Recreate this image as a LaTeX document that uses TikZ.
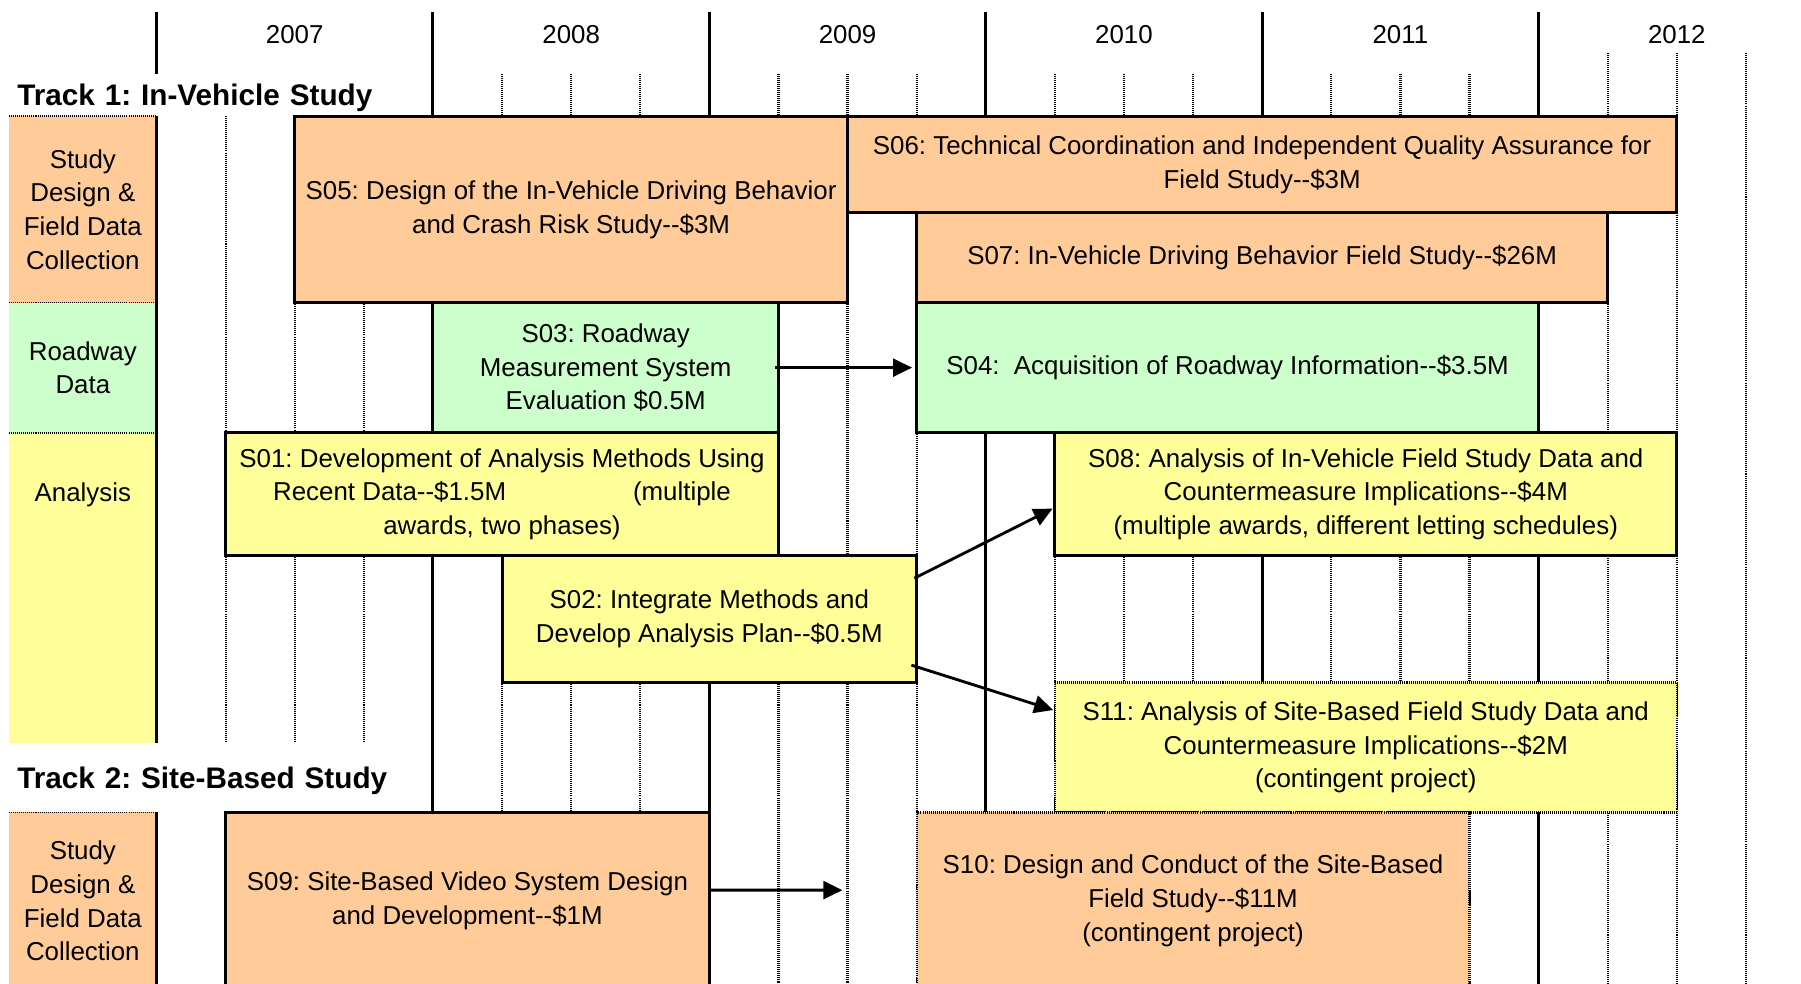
\documentclass[tikz,border=0pt]{standalone}
\usepackage{fontspec}
\setmainfont{Liberation Sans}
\usetikzlibrary{arrows.meta}
\definecolor{peach}{HTML}{FFCC99}
\definecolor{mint}{HTML}{CCFFCC}
\definecolor{lemon}{HTML}{FFFF99}
\newcommand{\twodash}{-\kern0pt-}
\tikzset{
  basic/.style = {font=\fontsize{12.8}{16.7}\selectfont, align=center, inner sep=0pt, outer sep=0pt},
  span/.style 2 args = {anchor=north west, minimum width=#1, minimum height=#2},
  task/.style = {basic, draw, line width=1.5pt},
  contingent/.style = {basic, draw, line width=1.1pt, dash pattern=on 0.5pt off 0.5pt},
  cell/.style = {basic, fill=#1, anchor=north west, minimum width=2.56cm},
  cell rule/.style = {line width=0.8pt, dash pattern=on 0.5pt off 0.5pt},
  track/.style = {font=\fontsize{14.7}{17}\selectfont\bfseries, fill=white, anchor=west,
    text width=6.8cm, text height=0.48cm, text depth=0.11cm,
    inner xsep=0.3cm, inner ysep=0pt, outer sep=0pt, align=left},
  year/.style = {line width=1.5pt},
  quarter/.style = {line width=1.1pt, dash pattern=on 0.5pt off 0.5pt},
  link/.style = {-{Triangle[length=0.33cm,width=0.31cm]}, line width=1.4pt}
}
\begin{document}
\frenchspacing
\begin{tikzpicture}[x=0.02cm, y=-0.02cm]
\useasboundingbox (0,0) rectangle (1565,855);
\clip (0,0) rectangle (1565,855);
% row heads on the left
\node[cell=peach, minimum height=3.24cm] (design1) at (8,101) {Study\\Design \&\\Field Data\\Collection};
\node[cell=mint, minimum height=2.26cm] (roadway) at (8,263) {Roadway\\Data};
\node[cell=lemon, minimum height=5.4cm] (analysis) at (8,376) {};
\node[basic] (analysislabel) at (72,430) {Analysis};
\node[cell=peach, minimum height=3.08cm] (design2) at (8,706) {Study\\Design \&\\Field Data\\Collection};
% time axis: years and quarters
\foreach \i in {0,...,5}
  \draw[year] (136+240.2*\i,10) -- (136+240.2*\i,860);
\foreach \i in {0,...,4}
  \foreach \q in {1,2,3}
    \draw[quarter] (136+240.2*\i+60.05*\q,64) -- (136+240.2*\i+60.05*\q,860);
\foreach \q in {1,2,3}
  \draw[quarter] (1337+60.05*\q,46) -- (1337+60.05*\q,860);
\foreach \yr [count=\i from 0] in {2007,...,2012}
  \node[basic] (y\yr) at (256.1+240.2*\i,30) {\yr};
% track titles
\node[track, minimum height=0.74cm] (track1) at (0,82.5) {Track 1: In-Vehicle Study};
\node[track, minimum height=1.2cm] (track2) at (0,676) {Track 2: Site-Based Study};
\foreach \c in {design1,roadway,analysis,design2}
  \draw[cell rule] (\c.north west) -- (\c.north east);
% track 1 projects
\node[task, fill=peach, span={9.608cm}{3.24cm}] (s05) at (256.1,101) {S05: Design of the In-Vehicle Driving Behavior\\and Crash Risk Study\twodash\$3M};
\node[task, fill=peach, span={14.412cm}{1.68cm}] (s06) at (736.5,101) {S06: Technical Coordination and Independent Quality Assurance for\\Field Study\twodash\$3M};
\node[task, fill=peach, span={12.01cm}{1.56cm}] (s07) at (796.55,185) {S07: In-Vehicle Driving Behavior Field Study\twodash\$26M};
\node[task, fill=mint, span={6.005cm}{2.26cm}] (s03) at (376.2,263) {S03: Roadway\\Measurement System\\Evaluation \$0.5M};
\node[task, fill=mint, span={10.809cm}{2.26cm}] (s04) at (796.55,263) {S04:\ \ Acquisition of Roadway Information\twodash\$3.5M};
\node[task, fill=lemon, span={9.608cm}{2.14cm}] (s01) at (196.05,376) {S01: Development of Analysis Methods Using\\Recent Data\twodash\$1.5M\hspace{4.9em}(multiple\\awards, two phases)};
\node[task, fill=lemon, span={7.206cm}{2.2cm}] (s02) at (436.25,483) {S02: Integrate Methods and\\Develop Analysis Plan\twodash\$0.5M};
\node[task, fill=lemon, span={10.809cm}{2.14cm}] (s08) at (916.65,376) {S08: Analysis of In-Vehicle Field Study Data and\\Countermeasure Implications\twodash\$4M\\(multiple awards, different letting schedules)};
\node[contingent, fill=lemon, span={10.809cm}{2.26cm}] (s11) at (916.65,593) {S11: Analysis of Site-Based Field Study Data and\\Countermeasure Implications\twodash\$2M\\(contingent project)};
% track 2 projects
\node[task, fill=peach, span={8.407cm}{3.08cm}] (s09) at (196.05,706) {S09: Site-Based Video System Design\\and Development\twodash\$1M};
\node[contingent, fill=peach, span={9.608cm}{3.08cm}] (s10) at (796.55,706) {S10: Design and Conduct of the Site-Based\\Field Study\twodash\$11M\\(contingent project)};
% dependencies
\coordinate (s09end) at (732,773.5);
\draw[link] ([xshift=-0.06cm]s03.east) -- ([xshift=-0.08cm]s04.west);
\draw[link] ([shift={(-0.04cm,-0.39cm)}]s02.north east) -- ([shift={(-0.04cm,-0.25cm)}]s08.west);
\draw[link] ([shift={(-0.09cm,0.3cm)}]s02.south east) -- ([shift={(-0.03cm,0.65cm)}]s11.west);
\draw[link] ([yshift=0.19cm]s09.east) -- (s09end);
\end{tikzpicture}
\end{document}
